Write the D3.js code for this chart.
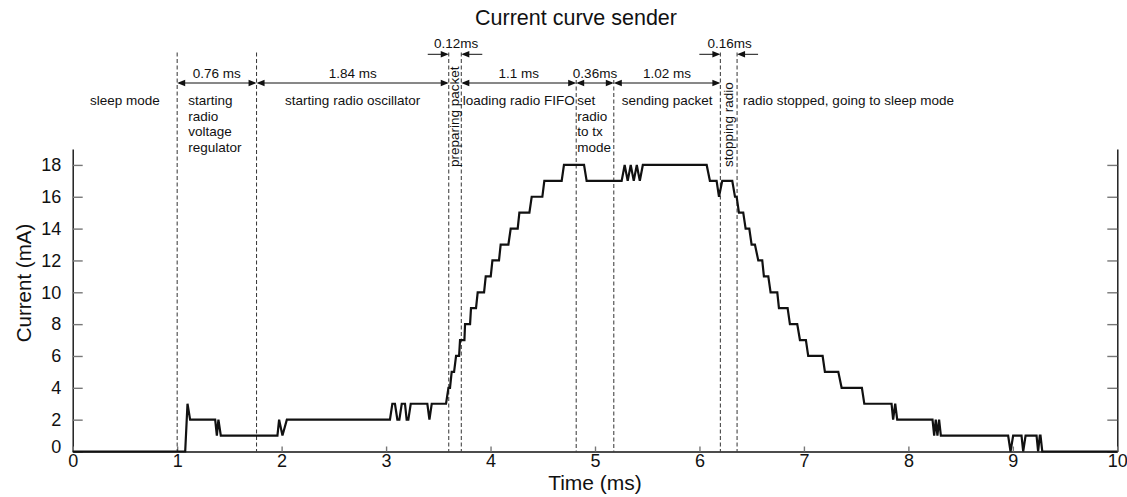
<!DOCTYPE html>
<html><head><meta charset="utf-8">
<script src="https://cdn.jsdelivr.net/npm/d3@7"></script>
<style>
body{margin:0;background:#fff;}
svg{display:block;font-family:"Liberation Sans",Arial,Helvetica,sans-serif;}
</style></head><body>
<svg id="c" width="1127" height="497"></svg>
<script>
// ---------------- data ----------------
const chartTitle = "Current curve sender";
const xLabel = "Time (ms)";
const yLabel = "Current (mA)";
const timeTicks = [0,1,2,3,4,5,6,7,8,9,10];
const currentTicks = [0,2,4,6,8,10,12,14,16,18];

const curveTimeMs = [0,1.077,1.099,1.124,1.364,1.38,1.395,1.418,1.96,1.976,2.008,2.05,
 3.037,3.06,3.085,3.108,3.127,3.15,3.181,3.197,3.213,3.236,3.395,3.415,3.437,3.574,
 3.597,3.612,3.628,3.651,3.670,3.699,3.708,3.750,3.756,3.804,3.813,3.861,3.877,3.938,
 3.954,4.002,4.018,4.081,4.097,4.171,4.193,4.260,4.276,4.372,4.394,4.496,4.515,4.681,
 4.703,4.895,4.920,5.255,5.284,5.313,5.342,5.371,5.400,5.429,5.458,6.069,6.100,6.164,
 6.187,6.218,6.314,6.340,6.356,6.378,6.419,6.442,6.477,6.499,6.531,6.563,6.601,6.617,
 6.659,6.681,6.745,6.761,6.844,6.866,6.936,6.962,7.019,7.041,7.179,7.201,7.329,7.361,
 7.555,7.578,7.839,7.854,7.874,7.893,8.231,8.247,8.262,8.278,8.294,8.311,8.955,8.978,
 9.003,9.083,9.099,9.122,9.227,9.242,9.258,9.265,9.282,10];
const curveCurrentMa = [0,0,3,2,2,1,2,1,1,2,1,2,
 2,3,3,2,2,3,3,2,2,3,3,2,3,3,
 4,4,5,5,6,6,7,7,8,8,9,9,10,10,
 11,11,12,12,13,13,14,14,15,15,16,16,17,17,
 18,18,17,17,18,17,18,17,18,17,18,18,17,17,
 16,17,17,16,16,15,15,14,14,13,13,12,12,11,
 11,10,10,9,9,8,8,7,7,6,6,5,5,4,
 4,3,3,2,3,2,2,1,2,1,2,1,1,0,
 1,1,0,1,1,0,1,1,0,0];

// phase boundaries (ms) drawn as dashed lines
const phaseBounds = [1.0,1.76,3.6,3.72,4.82,5.18,6.2,6.36];
// phases: start, end, label lines
const phaseStart = [0,1.0,1.76,3.6,3.72,4.82,5.18,6.2,6.36];
const phaseEnd   = [1.0,1.76,3.6,3.72,4.82,5.18,6.2,6.36,10];
const phaseText  = [["sleep mode"],["starting","radio","voltage","regulator"],
  ["starting radio oscillator"],["preparing packet"],["loading radio FIFO"],
  ["set","radio","to tx","mode"],["sending packet"],["stopping radio"],
  ["radio stopped, going to sleep mode"]];
// durations shown with arrows
const spanStart = [1.0,1.76,3.6,3.72,4.82,5.18,6.2];
const spanEnd   = [1.76,3.6,3.72,4.82,5.18,6.2,6.36];
const spanLabel = ["0.76 ms","1.84 ms","0.12ms","1.1 ms","0.36ms","1.02 ms","0.16ms"];

// ---------------- drawing ----------------
const svg = d3.select("#c");
const x = d3.scaleLinear().domain([0,10]).range([72.7,1117.3]);
const y = d3.scaleLinear().domain([0,19]).range([451.5,149]);
const ink = "#111";

// title and axis labels
svg.append("text").attr("x",576).attr("y",25).attr("text-anchor","middle")
  .attr("font-size",21.5).attr("fill",ink).text(chartTitle);
svg.append("text").attr("x",(x(0)+x(10))/2).attr("y",490).attr("text-anchor","middle")
  .attr("font-size",21).attr("fill",ink).text(xLabel);
svg.append("text").attr("transform","translate(31,283) rotate(-90)").attr("text-anchor","middle")
  .attr("font-size",20.5).attr("fill",ink).text(yLabel);

// axes
const gl = svg.append("g").attr("transform",`translate(${x(0)},0)`)
  .call(d3.axisLeft(y).tickValues(currentTicks).tickSizeInner(-10).tickSizeOuter(0).tickPadding(11.5));
const gr = svg.append("g").attr("transform",`translate(${x(10)},0)`)
  .call(d3.axisRight(y).tickValues(currentTicks).tickSizeInner(-10).tickSizeOuter(0).tickFormat(""));
const gb = svg.append("g").attr("transform",`translate(0,${y(0)})`)
  .call(d3.axisBottom(x).tickValues(timeTicks).tickSizeInner(-5).tickSizeOuter(0).tickPadding(2.5));
[gl,gr,gb].forEach(g=>{
  g.select(".domain").attr("stroke",ink).attr("stroke-width",1.4);
  g.selectAll(".tick line").attr("stroke","#777").attr("stroke-width",1.4);
  g.selectAll(".tick text").attr("font-size",18).attr("fill",ink)
    .attr("font-family","'Liberation Sans',Arial,sans-serif");
});
gl.selectAll(".tick text").filter(d=>d===0).attr("dy","0.05em");

// dashed phase lines
const lowTop = new Set([4.82,5.18]);
svg.append("g").selectAll("line").data(phaseBounds).join("line")
  .attr("x1",d=>x(d)).attr("x2",d=>x(d))
  .attr("y1",d=>lowTop.has(d)?80:52.5).attr("y2",y(0))
  .attr("stroke","#333").attr("stroke-width",1).attr("stroke-dasharray","4,2.5");

// arrows
function head(g, tipX, yy, dir){ // dir=+1 points right, -1 points left
  g.append("path").attr("d",`M${tipX},${yy} L${tipX-dir*8},${yy-3.2} L${tipX-dir*8},${yy+3.2} Z`)
   .attr("fill",ink);
}
const ga = svg.append("g");
spanStart.forEach((s,i)=>{
  const e = spanEnd[i], x1 = x(s), x2 = x(e), mid=(x1+x2)/2;
  const narrow = (e-s) < 0.2;
  if(!narrow){
    ga.append("line").attr("x1",x1+2).attr("x2",x2-2).attr("y1",83).attr("y2",83)
      .attr("stroke",ink).attr("stroke-width",1);
    head(ga,x1,83,-1); head(ga,x2,83,1);
    ga.append("text").attr("x",mid).attr("y",78).attr("text-anchor","middle")
      .attr("font-size",13.5).attr("fill",ink).text(spanLabel[i]);
  } else {
    ga.append("line").attr("x1",x1-21).attr("x2",x1-2).attr("y1",54.3).attr("y2",54.3)
      .attr("stroke",ink).attr("stroke-width",1);
    ga.append("line").attr("x1",x2+21).attr("x2",x2+2).attr("y1",54.3).attr("y2",54.3)
      .attr("stroke",ink).attr("stroke-width",1);
    head(ga,x1,54.3,1); head(ga,x2,54.3,-1);
    ga.append("text").attr("x",mid+1).attr("y",48).attr("text-anchor","middle")
      .attr("font-size",13.5).attr("fill",ink).text(spanLabel[i]);
  }
});

// phase labels
const phaseAlign = ["middle","start","middle","rot","middle","start","middle","rot","start"];
const phaseOffset = [0,11,0,0,0,1,0,0,6];
const gp = svg.append("g").attr("font-size",13.5).attr("fill",ink);
phaseText.forEach((lines,i)=>{
  const x1 = x(phaseStart[i]), x2 = x(phaseEnd[i]);
  const al = phaseAlign[i];
  if(al==="rot"){
    const cx = (x1+x2)/2 + 4;
    gp.append("text").attr("transform",`translate(${cx},167) rotate(-90)`)
      .attr("text-anchor","start").text(lines[0]);
  } else {
    const tx = al==="middle" ? (x1+x2)/2 : x1+phaseOffset[i];
    lines.forEach((ln,j)=>{
      gp.append("text").attr("x",tx).attr("y",105+j*15.5).attr("text-anchor",al).text(ln);
    });
  }
});

// current curve
const pts = curveTimeMs.map((t,i)=>[t,curveCurrentMa[i]]);
svg.append("path").datum(pts)
  .attr("d",d3.line().x(d=>x(d[0])).y(d=>y(d[1])))
  .attr("fill","none").attr("stroke",ink).attr("stroke-width",2.2)
  .attr("stroke-linejoin","miter").attr("stroke-miterlimit",3);
</script>
</body></html>
